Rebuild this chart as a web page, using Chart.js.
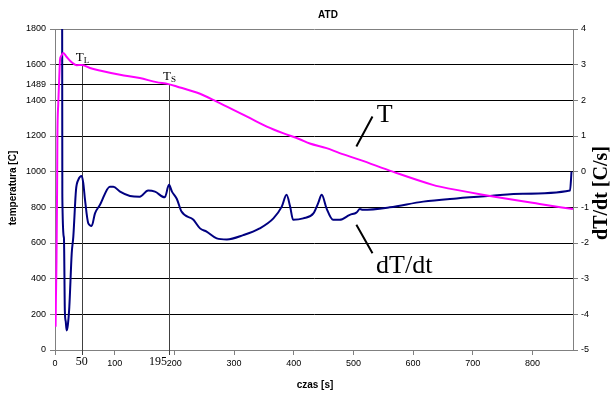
<!DOCTYPE html>
<html>
<head>
<meta charset="utf-8">
<script src="https://cdn.jsdelivr.net/npm/chart.js@4/dist/chart.umd.min.js"></script>
<style>
  html, body { margin: 0; padding: 0; background: #fff; }
  #wrap { width: 615px; height: 393px; position: relative; }
</style>
</head>
<body>
<div id="wrap"><canvas id="c"></canvas></div>
<script>
// temperature curve T [C] vs time [s]
const tempTime = [1, 1.5, 2.5, 3.5, 4, 5.5, 7, 8.4, 10, 14, 19.6, 28, 36, 45, 60, 75, 109, 142, 170, 190, 204, 243, 271, 299, 327, 355, 382, 410, 427, 455, 477, 511, 566, 633, 645, 729, 812, 868]
const tempValues = [130, 280, 500, 900, 1190, 1384, 1515, 1627, 1646, 1665, 1643, 1613, 1597, 1598, 1580, 1567, 1543, 1525, 1502, 1491, 1478, 1437, 1393, 1347, 1300, 1253, 1216, 1182, 1158, 1132, 1104, 1066, 1000, 926, 916, 864, 819, 790]

// cooling rate dT/dt [C/s] vs time [s]
const rateTime = [11.8, 12.3, 15, 16.5, 18, 19.5, 21.5, 24, 28, 30.7, 35.2, 39, 44.7, 47.4, 50.3, 55.8, 61.5, 67, 75.4, 92, 97.7, 109, 125.6, 142, 156, 167.5, 184, 191, 196, 204, 212, 232, 243, 254, 271, 288, 315.5, 343, 366, 380, 388, 394, 399, 416, 433, 441, 447, 455, 466, 477, 494, 505, 511, 516, 561, 617, 673, 729, 784, 863, 865.5]
const rateValues = [8, -0.7, -1.86, -3.9, -4.2, -4.45, -4.3, -3.79, -2.29, -1.82, -0.51, -0.23, -0.12, -0.32, -0.79, -1.45, -1.52, -1.17, -0.93, -0.42, -0.42, -0.56, -0.68, -0.7, -0.53, -0.56, -0.72, -0.37, -0.56, -0.76, -1.12, -1.35, -1.59, -1.68, -1.87, -1.9, -1.78, -1.59, -1.31, -0.98, -0.65, -0.98, -1.35, -1.31, -1.17, -0.88, -0.65, -1.03, -1.35, -1.35, -1.21, -1.15, -1.05, -1.07, -1.0, -0.84, -0.75, -0.68, -0.62, -0.53, 0.0]

// liquidus / solidus markers
const markerNames = ['L', 'S']
const markerTimes = [45, 191]
const markerTemps = [1600, 1489]
const markerTickLabels = ['50', '195']

const tempTicks = [0, 200, 400, 600, 800, 1000, 1200, 1400, 1489, 1600, 1800]

const SANS = '"Liberation Sans", Arial, sans-serif'
const SERIF = '"Liberation Serif", "Times New Roman", serif'

const extras = {
  id: 'extras',
  beforeDatasetsDraw(chart) {
    const { ctx, scales: { x, y } } = chart
    ctx.save()
    ctx.strokeStyle = '#404040'
    ctx.lineWidth = 1
    markerTimes.forEach((t, i) => {
      const px = Math.round(x.getPixelForValue(t)) + 0.5
      const py = y.getPixelForValue(markerTemps[i])
      ctx.beginPath()
      ctx.moveTo(px, py)
      ctx.lineTo(px, y.bottom + 5)
      ctx.stroke()
    })
    // 1489 level only up to the solidus point
    const sy = Math.round(y.getPixelForValue(markerTemps[1])) + 0.5
    ctx.strokeStyle = '#000'
    ctx.beginPath()
    ctx.moveTo(x.left, sy)
    ctx.lineTo(x.getPixelForValue(markerTimes[1]), sy)
    ctx.stroke()
    ctx.restore()
  },
  afterDraw(chart) {
    const { ctx, scales: { x, y, y2 } } = chart
    ctx.save()
    ctx.fillStyle = '#000'
    // titles
    ctx.font = 'bold 10px ' + SANS
    ctx.textAlign = 'center'
    ctx.textBaseline = 'middle'
    ctx.fillText('ATD', 328, 15)
    ctx.fillText('czas [s]', 315, 385)
    ctx.save()
    ctx.translate(13, 188)
    ctx.rotate(-Math.PI / 2)
    ctx.fillText('temperatura [C]', 0, 0)
    ctx.restore()
    ctx.save()
    ctx.font = 'bold 20px ' + SERIF
    ctx.textBaseline = 'alphabetic'
    ctx.translate(607, 193)
    ctx.rotate(-Math.PI / 2)
    ctx.fillText('dT/dt [C/s]', 0, 0)
    ctx.restore()

    // marker names T_L, T_S and time labels
    ctx.textAlign = 'left'
    ctx.textBaseline = 'alphabetic'
    markerTimes.forEach((t, i) => {
      const px = x.getPixelForValue(t)
      const py = y.getPixelForValue(markerTemps[i])
      ctx.font = '13px ' + SERIF
      ctx.fillText('T', px - 6, py - 4)
      ctx.font = '9px ' + SERIF
      ctx.fillText(markerNames[i], px + 2, py - 2)
      ctx.font = '12px ' + SERIF
      ctx.textAlign = 'center'
      ctx.fillText(markerTickLabels[i], i === 0 ? px : px - 11, y.bottom + 15)
      ctx.textAlign = 'left'
    })

    // curve labels with leader lines
    ctx.strokeStyle = '#000'
    ctx.lineWidth = 2
    ctx.beginPath()
    ctx.moveTo(x.getPixelForValue(505), y.getPixelForValue(1141))
    ctx.lineTo(x.getPixelForValue(532), y.getPixelForValue(1309))
    ctx.moveTo(x.getPixelForValue(505), y2.getPixelForValue(-1.49))
    ctx.lineTo(x.getPixelForValue(532), y2.getPixelForValue(-2.29))
    ctx.stroke()
    ctx.font = '26px ' + SERIF
    ctx.fillText('T', x.getPixelForValue(539), y.getPixelForValue(1281))
    ctx.fillText('dT/dt', x.getPixelForValue(538), y2.getPixelForValue(-2.84))
    ctx.restore()
  }
}

const pts = (xs, ys) => xs.map((t, i) => ({ x: t, y: ys[i] }))
const plain = v => String(v)

new Chart(document.getElementById('c'), {
  type: 'line',
  data: {
    datasets: [
      {
        label: 'T',
        data: pts(tempTime, tempValues),
        yAxisID: 'y',
        borderColor: '#ff00ff',
        borderWidth: 2,
        pointRadius: 0,
        cubicInterpolationMode: 'monotone',
        fill: false,
      },
      {
        label: 'dT/dt',
        data: pts(rateTime, rateValues),
        yAxisID: 'y2',
        borderColor: '#000080',
        borderWidth: 2,
        pointRadius: 0,
        cubicInterpolationMode: 'monotone',
        fill: false,
      }
    ]
  },
  options: {
    responsive: true,
    maintainAspectRatio: false,
    animation: false,
    layout: { padding: { top: 29, left: 0, right: 0, bottom: 0 } },
    plugins: { legend: { display: false }, tooltip: { enabled: false }, title: { display: false } },
    scales: {
      x: {
        type: 'linear',
        min: 0,
        max: 868,
        afterBuildTicks: s => { s.ticks = s.ticks.filter(t => t.value % 100 === 0) },
        afterFit: s => { s.height = 43 },
        ticks: { stepSize: 100, callback: plain, color: '#000', font: { family: SANS, size: 9 }, padding: 3, maxRotation: 0 },
        grid: { drawOnChartArea: false, tickLength: 5, tickColor: '#808080' },
        border: { color: '#808080' },
      },
      y: {
        position: 'left',
        min: 0,
        max: 1800,
        afterBuildTicks: s => { s.ticks = tempTicks.map(v => ({ value: v })) },
        afterFit: s => { s.width = 55 },
        ticks: { callback: plain, color: '#000', autoSkip: false, font: { family: SANS, size: 9 }, padding: 4 },
        grid: {
          tickLength: 5,
          tickColor: '#808080',
          color: c => {
            const v = c.tick ? c.tick.value : null
            if (v === 1489) return 'rgba(0,0,0,0)'
            if (v === 1800 || v === 0) return '#808080'
            return '#000'
          },
        },
        border: { color: '#808080' },
      },
      y2: {
        position: 'right',
        min: -5,
        max: 4,
        afterFit: s => { s.width = 42 },
        ticks: { stepSize: 1, callback: plain, color: '#000', font: { family: SANS, size: 9 }, padding: 3 },
        grid: { drawOnChartArea: false, tickLength: 5, tickColor: '#808080' },
        border: { color: '#808080' },
      }
    }
  },
  plugins: [extras]
})
</script>
</body>
</html>
